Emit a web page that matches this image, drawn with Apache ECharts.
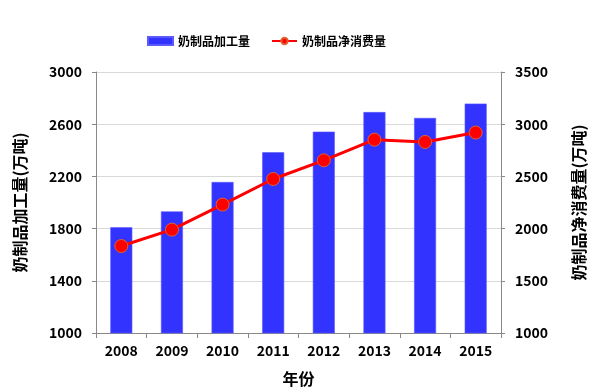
<!DOCTYPE html>
<html><head><meta charset="utf-8">
<script src="https://cdn.jsdelivr.net/npm/echarts@6/dist/echarts.min.js"></script>
<style>html,body{margin:0;padding:0;background:#fff}#c{width:600px;height:392px}</style>
</head><body><div id="c"></div>
<script>
var categories = ['2008','2009','2010','2011','2012','2013','2014','2015'];
var processing = [1810, 1932, 2157, 2385, 2543, 2693, 2648, 2758];
var consumption = [1833, 1990, 2230, 2475, 2654, 2852, 2830, 2920];
var leftName = '奶制品加工量(万吨)';
var rightName = '奶制品净消费量(万吨)';
var xName = '年份';

var FONT = '"Noto Sans CJK SC", "Noto Sans", sans-serif';
var chart = echarts.init(document.getElementById('c'), null, {renderer:'canvas'});
function lbl(m){return {color:'#000', fontWeight:'bold', fontSize:14, fontFamily:FONT, margin:m, formatter:function(v){return String(v);}};}
var nameStyle = {color:'#000', fontWeight:'bold', fontSize:16, fontFamily:FONT};
chart.setOption({
  animation:false,
  textStyle:{fontFamily:FONT},
  legend:{
    top:30, left:142, itemGap:21, itemWidth:25, itemHeight:8,
    textStyle:{color:'#000', fontWeight:'bold', fontSize:12, fontFamily:FONT},
    data:[{name:'奶制品加工量', icon:'rect'},{name:'奶制品净消费量'}]
  },
  grid:{left:96, right:99, top:72, bottom:59, containLabel:false, outerBoundsMode:'none'},
  xAxis:{
    type:'category', data:categories,
    name:xName, nameLocation:'middle', nameGap:38,
    nameTextStyle:nameStyle,
    axisLine:{lineStyle:{color:'#888'}},
    axisTick:{show:true, length:5, lineStyle:{color:'#888'}},
    axisLabel:lbl(11)
  },
  yAxis:[{
    type:'value', min:1000, max:3000, interval:400,
    name:leftName, nameLocation:'middle', nameGap:68, nameRotate:90,
    nameTextStyle:nameStyle,
    axisLine:{show:true, lineStyle:{color:'#888'}},
    axisTick:{show:true, length:4, lineStyle:{color:'#888'}},
    axisLabel:lbl(14),
    splitLine:{lineStyle:{color:'#d9d9d9'}}
  },{
    type:'value', min:1000, max:3500, interval:500,
    name:rightName, nameLocation:'middle', nameGap:70, nameRotate:90,
    nameTextStyle:nameStyle,
    axisLine:{show:true, lineStyle:{color:'#888'}},
    axisTick:{show:true, length:4, lineStyle:{color:'#888'}},
    axisLabel:lbl(14),
    splitLine:{show:false}
  }],
  series:[{
    name:'奶制品加工量', type:'bar', yAxisIndex:0, data:processing,
    barWidth:22,
    itemStyle:{color:'#3333ff', borderColor:'#5a5aff', borderWidth:0.6}
  },{
    name:'奶制品净消费量', type:'line', yAxisIndex:1, data:consumption,
    symbol:'circle', symbolSize:13,
    lineStyle:{color:'#ff0000', width:3},
    itemStyle:{color:'#ff0000', borderColor:'#e06030', borderWidth:1}
  }]
});
</script></body></html>
